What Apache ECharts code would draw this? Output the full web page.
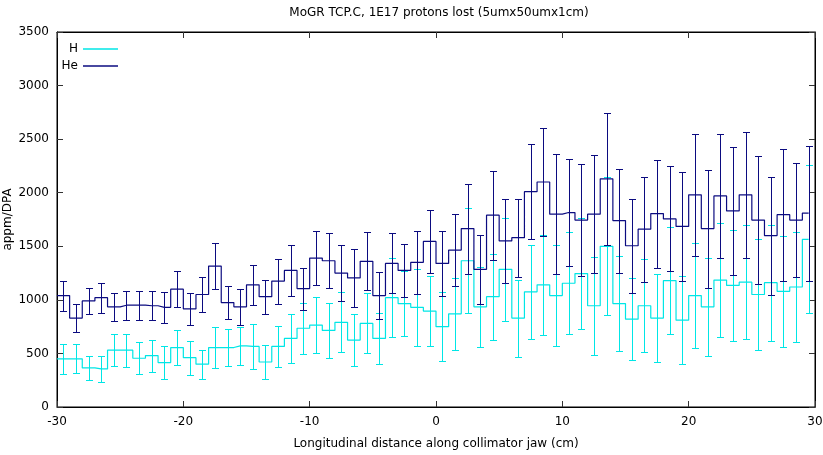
<!DOCTYPE html>
<html>
<head>
<meta charset="utf-8">
<script src="https://cdn.jsdelivr.net/npm/echarts@6/dist/echarts.min.js"></script>
<style>html,body{margin:0;padding:0;background:#fff}#c{width:823px;height:455px}</style>
</head>
<body>
<div id="c"></div>
<script>
// Bin centres (cm) along the collimator jaw: -29.5 ... 29.5
const binCenters = [-29.5,-28.5,-27.5,-26.5,-25.5,-24.5,-23.5,-22.5,-21.5,-20.5,
  -19.5,-18.5,-17.5,-16.5,-15.5,-14.5,-13.5,-12.5,-11.5,-10.5,
  -9.5,-8.5,-7.5,-6.5,-5.5,-4.5,-3.5,-2.5,-1.5,-0.5,
  0.5,1.5,2.5,3.5,4.5,5.5,6.5,7.5,8.5,9.5,
  10.5,11.5,12.5,13.5,14.5,15.5,16.5,17.5,18.5,19.5,
  20.5,21.5,22.5,23.5,24.5,25.5,26.5,27.5,28.5,29.5];

const hValues = [450,450,365,355,530,530,455,480,415,555,
  460,400,555,555,570,565,420,565,640,735,
  765,715,790,625,780,640,1020,965,930,895,
  750,870,1365,935,1030,1285,830,1075,1140,1040,
  1155,1245,945,1500,965,820,945,830,1180,810,
  1040,935,1185,1135,1165,1050,1160,1080,1120,1565];
const hErrors = [140,135,115,120,150,155,150,150,150,165,
  160,135,190,175,180,210,155,190,225,240,
  260,255,280,240,280,240,370,300,360,330,
  325,335,490,375,400,480,360,440,470,475,
  475,515,455,645,440,380,435,410,500,410,
  490,460,535,520,530,520,540,520,510,690];

const heValues = [1040,830,990,1020,935,950,950,945,930,1100,
  915,1050,1315,975,935,1140,1030,1175,1275,1105,
  1390,1365,1250,1205,1360,1040,1340,1275,1350,1545,
  1340,1465,1665,1285,1790,1550,1580,2010,2100,1800,
  1815,1745,1800,2130,1740,1505,1660,1805,1755,1685,
  1980,1665,1970,1830,1980,1745,1600,1795,1745,1810];
const heErrors = [140,128,123,140,130,135,135,135,148,165,
  150,160,215,150,165,190,160,210,235,195,
  250,255,260,270,270,220,280,245,295,295,
  305,340,420,320,415,395,365,445,500,560,
  500,520,550,615,485,440,490,505,490,510,
  570,550,575,600,590,600,550,615,530,630];

const xTicks = [-30,-20,-10,0,10,20,30];
const yTicks = [0,500,1000,1500,2000,2500,3000,3500];

const colH = '#00e6e6';
const colHe = '#0b0b80';
const FONT = 'DejaVu Sans';
const FS = 12;

function stepData(vals){
  const d = [[xTicks[0], vals[0]]];
  binCenters.forEach((x,i)=>d.push([x, vals[i]]));
  return d;
}
function errData(vals, errs){
  return binCenters.map((x,i)=>[x, vals[i]-errs[i], vals[i]+errs[i]]);
}
function errRender(color){
  return function(params, api){
    const x = api.value(0);
    const lo = api.coord([x, api.value(1)]);
    const hi = api.coord([x, api.value(2)]);
    const px = Math.round(lo[0]) + 0.5;
    const yl = Math.round(lo[1]) + 0.5, yh = Math.round(hi[1]) + 0.5;
    const hw = 3.5;
    const st = {stroke: color, lineWidth: 1};
    return {type:'group', children:[
      {type:'line', shape:{x1:px,y1:yl,x2:px,y2:yh}, style:st},
      {type:'line', shape:{x1:px-hw,y1:yl,x2:px+hw,y2:yl}, style:st},
      {type:'line', shape:{x1:px-hw,y1:yh,x2:px+hw,y2:yh}, style:st}
    ]};
  };
}

const chart = echarts.init(document.getElementById('c'), null, {renderer:'canvas'});
function axisCommon(){
  return {
    axisLine:{show:true, onZero:false, lineStyle:{color:'#000', width:1}},
    axisTick:{show:true, inside:true, length:6, lineStyle:{color:'#333'}},
    splitLine:{show:false}
  };
}
const fmt = v => String(v);
chart.setOption({
  animation:false,
  backgroundColor:'#fff',
  textStyle:{fontFamily:FONT},
  title:{text:'MoGR TCP.C, 1E17 protons lost (5umx50umx1cm)', left:434, top:2, textAlign:'center',
    textStyle:{fontFamily:FONT, fontSize:FS, fontWeight:'normal', color:'#000'}},
  grid:{left:57, right:8, top:32, bottom:48, show:true, borderColor:'#000', borderWidth:1,
    containLabel:false, outerBoundsMode:'none'},
  legend:[
    {data:['H'], orient:'vertical', right:700, top:38, align:'right', icon:'rect', itemWidth:35, itemHeight:1.5, itemGap:6,
     textStyle:{fontFamily:FONT, fontSize:FS, color:'#000'}},
    {data:['He'], orient:'vertical', right:700, top:55, align:'right', icon:'rect', itemWidth:35, itemHeight:1.5, itemGap:6,
     textStyle:{fontFamily:FONT, fontSize:FS, color:'#000'}}
  ],
  xAxis:[
    Object.assign({type:'value', min:-30, max:30, interval:10, position:'bottom',
      name:'Longitudinal distance along collimator jaw (cm)', nameLocation:'middle', nameGap:31, nameMoveOverlap:false,
      nameTextStyle:{fontFamily:FONT, fontSize:FS, color:'#000'},
      axisLabel:{color:'#000', fontFamily:FONT, fontSize:FS, margin:9, formatter:fmt}}, axisCommon()),
    Object.assign({type:'value', min:-30, max:30, interval:10, position:'top', axisLabel:{show:false}}, axisCommon())
  ],
  yAxis:[
    Object.assign({type:'value', min:0, max:3500, interval:500, position:'left',
      name:'appm/DPA', nameLocation:'middle', nameGap:43, nameMoveOverlap:false,
      nameTextStyle:{fontFamily:FONT, fontSize:FS, color:'#000'},
      axisLabel:{color:'#000', fontFamily:FONT, fontSize:FS, margin:8, formatter:fmt}}, axisCommon()),
    Object.assign({type:'value', min:0, max:3500, interval:500, position:'right', axisLabel:{show:false}}, axisCommon())
  ],
  series:[
    {name:'H', type:'line', step:'middle', data:stepData(hValues), symbol:'none',
     lineStyle:{color:colH, width:1.2}, itemStyle:{color:colH}, z:2},
    {name:'H err', type:'custom', data:errData(hValues,hErrors), renderItem:errRender(colH),
     encode:{x:0, y:[1,2]}, itemStyle:{color:colH}, z:2},
    {name:'He', type:'line', step:'middle', data:stepData(heValues), symbol:'none',
     lineStyle:{color:colHe, width:1.2}, itemStyle:{color:colHe}, z:3},
    {name:'He err', type:'custom', data:errData(heValues,heErrors), renderItem:errRender(colHe),
     encode:{x:0, y:[1,2]}, itemStyle:{color:colHe}, z:3}
  ]
});
</script>
</body>
</html>
